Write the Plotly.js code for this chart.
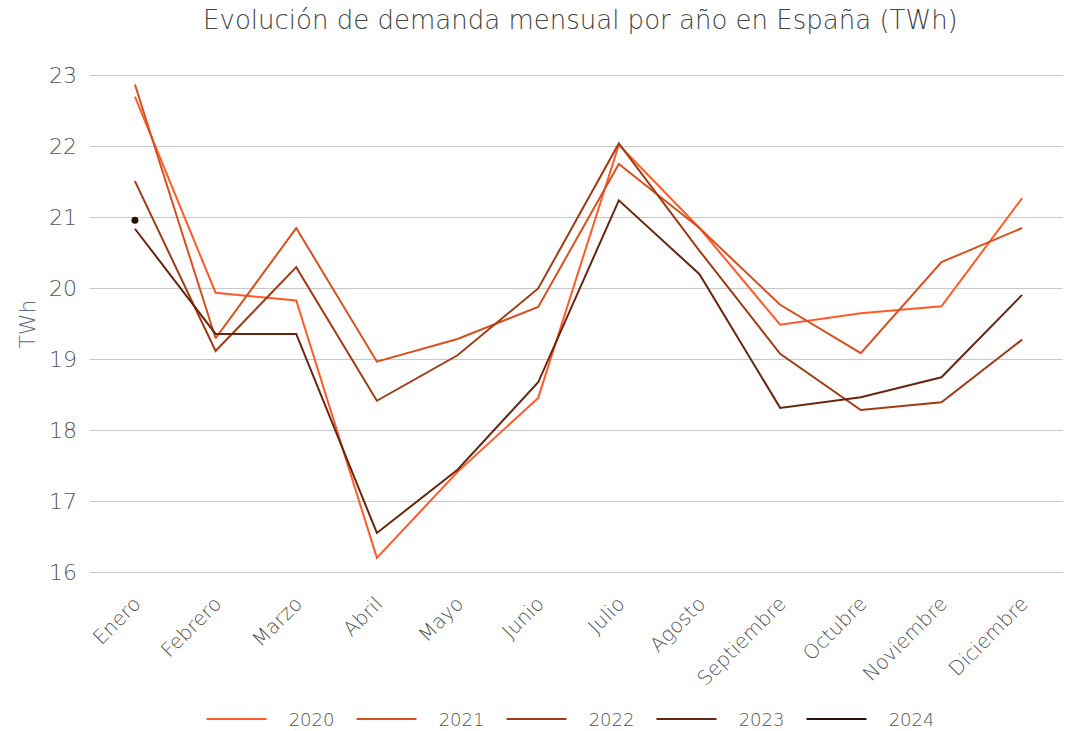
<!DOCTYPE html>
<html>
<head>
<meta charset="utf-8">
<script src="https://cdn.plot.ly/plotly-3.0.1.min.js"></script>
<style>html,body{margin:0;padding:0;background:#fff;}#chart{width:1065px;height:731px;}</style>
</head>
<body>
<div id="chart"></div>
<script>
const months = ["Enero","Febrero","Marzo","Abril","Mayo","Junio","Julio","Agosto","Septiembre","Octubre","Noviembre","Diciembre"];
const years = ["2020","2021","2022","2023","2024"];
const y2020 = [22.70, 19.94, 19.83, 16.21, 17.42, 18.46, 22.02, 20.85, 19.49, 19.65, 19.75, 21.27];
const y2021 = [22.87, 19.30, 20.85, 18.97, 19.29, 19.74, 21.75, 20.85, 19.77, 19.09, 20.37, 20.85];
const y2022 = [21.51, 19.12, 20.30, 18.42, 19.06, 20.00, 22.04, 20.53, 19.08, 18.29, 18.40, 19.28];
const y2023 = [20.84, 19.36, 19.36, 16.56, 17.45, 18.68, 21.24, 20.20, 18.32, 18.47, 18.75, 19.91];
const y2024 = [20.96];
const series = [y2020, y2021, y2022, y2023, y2024];
const colors = ["#ff5a28", "#d6501f", "#9e3c16", "#662610", "#2a1208"];

const FONT = "'DejaVu Sans', sans-serif";
const PAD = "\u00a0\u00a0\u00a0";
const traces = series.map((vals, i) => ({
  type: "scatter",
  mode: "lines",
  name: PAD + years[i],
  x: months.slice(0, vals.length),
  y: vals,
  line: {color: colors[i], width: 2}
}));
// isolated single point of 2024 shown as a dot
traces.push({
  type: "scatter", mode: "markers", showlegend: false,
  x: months.slice(0, y2024.length), y: y2024,
  marker: {color: colors[4], size: 7}
});

const layout = {
  width: 1065, height: 731,
  paper_bgcolor: "#fff", plot_bgcolor: "#fff",
  margin: {l: 90, r: 2, t: 61, b: 144},
  font: {family: FONT, color: "#555", weight: 200},
  title: {text: "Evolución de demanda mensual por año en España (TWh)", x: 0.545, xanchor: "center", y: 0.985, yanchor: "top",
          font: {family: FONT, size: 26, color: "#444", weight: 200}},
  xaxis: {
    type: "category", categoryorder: "array", categoryarray: months,
    range: [-0.557, 11.507], automargin: false,
    tickangle: -45, tickfont: {size: 20, color: "#555", weight: 200},
    showgrid: false, zeroline: false, showline: false, ticks: ""
  },
  yaxis: {
    range: [15.8, 23.2], dtick: 1, tick0: 16, automargin: false,
    tickfont: {size: 22, color: "#555", weight: 200}, ticklabelstandoff: 12,
    gridcolor: "#c8c8c8", gridwidth: 1, zeroline: false, showline: false,
    ticks: "", ticklen: 0,
    title: {text: "TWh", font: {size: 22, color: "#5d6d85", weight: 200}, standoff: 7}
  },
  legend: {orientation: "h", x: 0.5, xanchor: "center", yref: "container", y: 0.016, yanchor: "middle",
           font: {size: 18, color: "#555", weight: 200}, itemwidth: 60,
           entrywidth: 75, entrywidthmode: "pixels", traceorder: "normal"},
  showlegend: true
};

Plotly.newPlot("chart", traces, layout, {displayModeBar: false, staticPlot: true});
</script>
</body>
</html>
